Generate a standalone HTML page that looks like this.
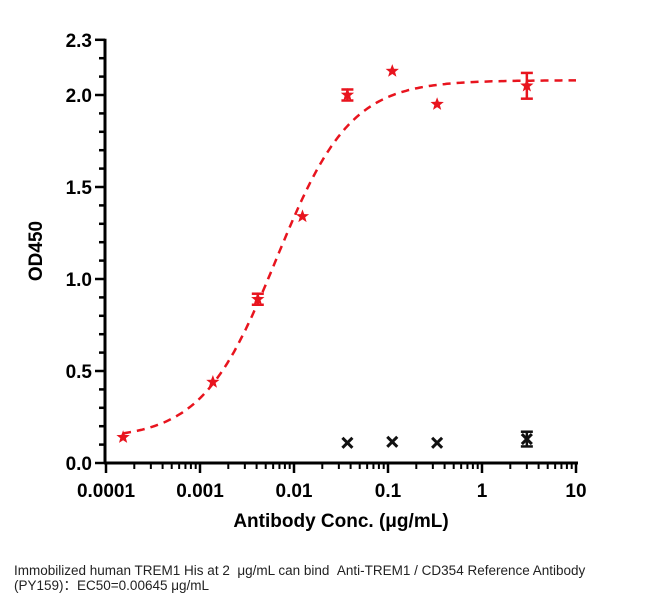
<!DOCTYPE html>
<html><head><meta charset="utf-8"><style>
body{margin:0;background:#fff;width:659px;height:604px;overflow:hidden;font-family:"Liberation Sans",Arial,sans-serif}
.cap{position:absolute;left:14px;top:563px;font-size:13.5px;line-height:15px;color:#222;width:600px}
</style></head><body>
<svg id="chart" width="659" height="604" style="position:absolute;left:0;top:0" font-family="Liberation Sans, Arial, sans-serif"></svg>
<div class="cap">Immobilized human TREM1 His at 2 &nbsp;μg/mL can bind &nbsp;Anti-TREM1 / CD354 Reference Antibody (PY159)：EC50=0.00645 μg/mL</div>
<script>
const concs=[0.000152,0.00137,0.00412,0.0123,0.037,0.111,0.333,3.0];
const od=[0.14,0.44,0.89,1.34,2.00,2.13,1.95,2.05];
const odErr=[0,0,0.03,0,0.03,0,0,0.07];
const ctrlConcs=[0.037,0.111,0.333,3.0];
const ctrlOd=[0.11,0.115,0.11,0.13];
const ctrlErr=[0,0,0,0.04];
const fitBottom=0.13,fitTop=2.08,fitEC50=0.00645,fitHill=1.1;
const xTicks=[0.0001,0.001,0.01,0.1,1,10];
const xTickLabels=["0.0001","0.001","0.01","0.1","1","10"];
const yTicks=[0,0.5,1.0,1.5,2.0,2.3];
const yTickLabels=["0.0","0.5","1.0","1.5","2.0","2.3"];
const svg=document.getElementById('chart');
const NS='http://www.w3.org/2000/svg';
const X0=106,DEC=94,Y0=463,YS=184;
const xs=v=>X0+(Math.log10(v)+4)*DEC;
const ys=v=>Y0-v*YS;
function mk(t,a,p){const e=document.createElementNS(NS,t);for(const k in a)e.setAttribute(k,a[k]);(p||svg).appendChild(e);return e;}
let e=mk('line',{x1:105,y1:ys(2.3)-1,x2:105,y2:Y0+1,stroke:'#000','stroke-width':3});

e=mk('line',{x1:104,y1:Y0,x2:xs(10)+2,y2:Y0,stroke:'#000','stroke-width':3});

for(let v=0;v<=2.3001;v+=0.1){const major=yTicks.some(t=>Math.abs(t-v)<1e-6);
 e=mk('line',{x1:105-(major?10:6),y1:ys(v),x2:105,y2:ys(v),stroke:'#000','stroke-width':2.5});
 }
yTicks.forEach((v,i)=>{e=mk('text',{x:92,y:ys(v)+7,'text-anchor':'end','font-size':19,'font-weight':'bold'});e.textContent=yTickLabels[i];
 });
xTicks.forEach((v,i)=>{
 e=mk('line',{x1:xs(v),y1:Y0,x2:xs(v),y2:Y0+10,stroke:'#000','stroke-width':2.5});
 
 if(i<xTicks.length-1)for(let m=2;m<10;m++){e=mk('line',{x1:xs(v*m),y1:Y0,x2:xs(v*m),y2:Y0+6,stroke:'#000','stroke-width':2});
  }
 e=mk('text',{x:xs(v),y:Y0+34,'text-anchor':'middle','font-size':19,'font-weight':'bold'});e.textContent=xTickLabels[i];
 });
e=mk('text',{x:341,y:527,'text-anchor':'middle','font-size':19,'font-weight':'bold'});e.textContent='Antibody Conc. (μg/mL)';

e=mk('text',{x:0,y:0,'text-anchor':'middle','font-size':19,'font-weight':'bold',transform:'translate(42,251) rotate(-90)'});e.textContent='OD450';

let d='';for(let i=0;i<=200;i++){const lx=Math.log10(concs[0])+(1-Math.log10(concs[0]))*i/200;const x=Math.pow(10,lx);
 const y=fitBottom+(fitTop-fitBottom)/(1+Math.pow(fitEC50/x,fitHill));d+=(i?'L':'M')+xs(x).toFixed(1)+','+ys(y).toFixed(1);}
e=mk('path',{d:d,fill:'none',stroke:'#e8141e','stroke-width':2.5,'stroke-dasharray':'8,6'});

function star(cx,cy,r){let p='';for(let i=0;i<10;i++){const a=-Math.PI/2+i*Math.PI/5;const rr=i%2?r*0.42:r;p+=(i?'L':'M')+(cx+rr*Math.cos(a)).toFixed(1)+','+(cy+rr*Math.sin(a)).toFixed(1);}return p+'Z';}
function errbar(x,v,er,col){if(!er)return;const g=mk('g',{stroke:col,'stroke-width':2.5});
 
 mk('line',{x1:x,y1:ys(v+er),x2:x,y2:ys(v-er)},g);mk('line',{x1:x-6,y1:ys(v+er),x2:x+6,y2:ys(v+er)},g);mk('line',{x1:x-6,y1:ys(v-er),x2:x+6,y2:ys(v-er)},g);}
concs.forEach((c,i)=>{errbar(xs(c),od[i],odErr[i],'#e8141e');
 e=mk('path',{d:star(xs(c),ys(od[i]),7),fill:'#e8141e'});
 });
ctrlConcs.forEach((c,i)=>{const x=xs(c),y=ys(ctrlOd[i]);errbar(x,ctrlOd[i],ctrlErr[i],'#111');
 e=mk('path',{d:`M${x-5},${y-5}L${x+5},${y+5}M${x+5},${y-5}L${x-5},${y+5}`,stroke:'#111','stroke-width':3});
 });
</script>
</body></html>
